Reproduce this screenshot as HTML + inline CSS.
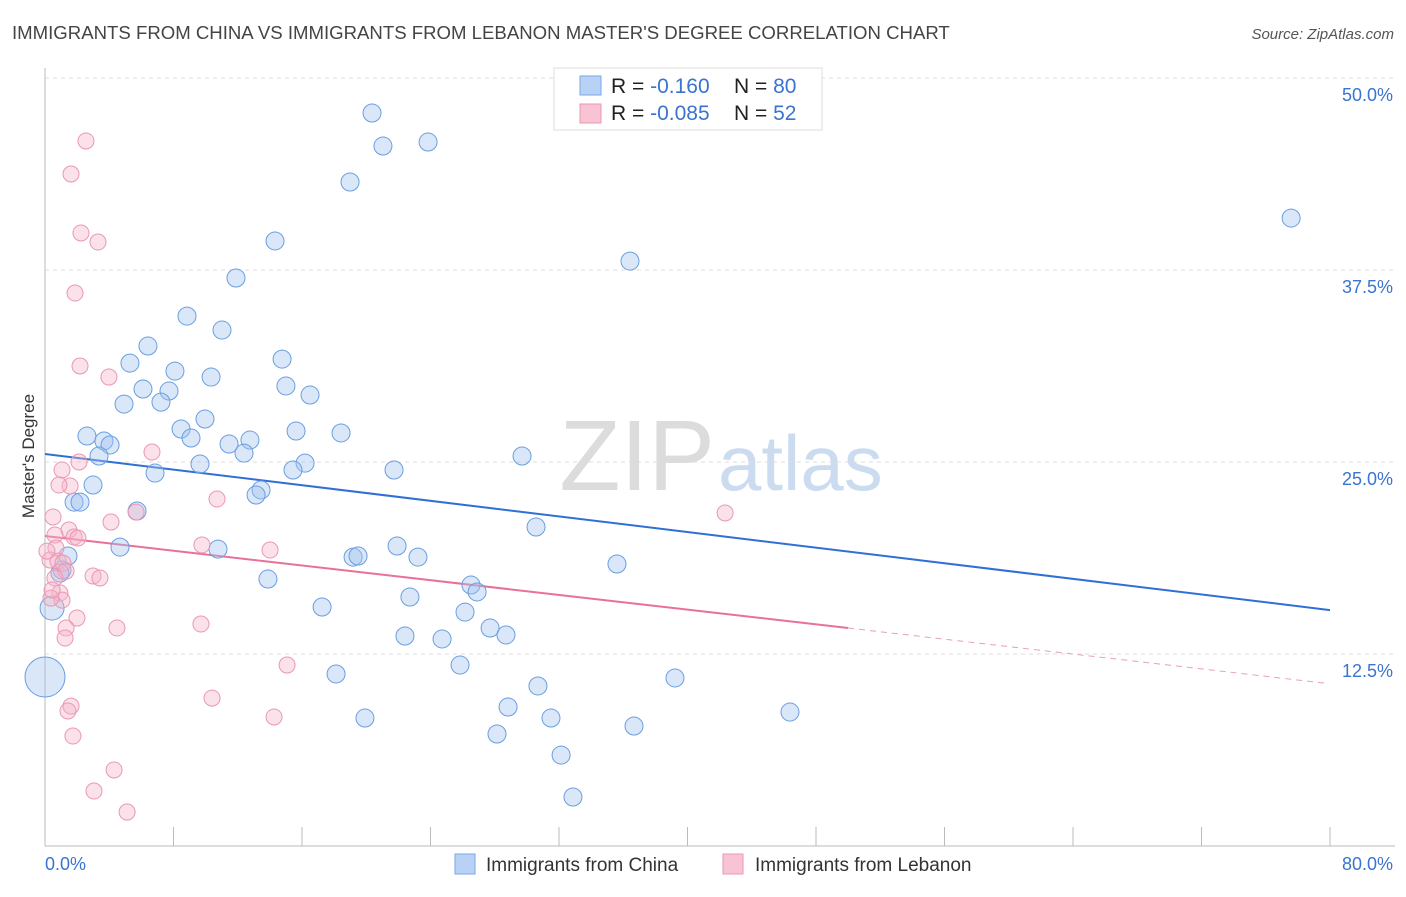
<!DOCTYPE html>
<html><head><meta charset="utf-8"><style>
body{margin:0;background:#fff;font-family:"Liberation Sans",sans-serif;}
svg text{font-family:"Liberation Sans",sans-serif;}
</style></head><body>
<svg id="chart" width="1406" height="892">
<text x="12" y="39" font-size="18.6" fill="#444">IMMIGRANTS FROM CHINA VS IMMIGRANTS FROM LEBANON MASTER'S DEGREE CORRELATION CHART</text>
<text x="1394" y="39" font-size="15" fill="#555" font-style="italic" text-anchor="end">Source: ZipAtlas.com</text>
<text x="34" y="456" font-size="17" fill="#333" text-anchor="middle" transform="rotate(-90 34 456)">Master's Degree</text>
<g><text x="715" y="490" font-size="100" fill="#dcdcdc" font-family="Liberation Serif,serif" text-anchor="end">ZIP</text><text x="718" y="490" font-size="78" fill="#ccdcf0">atlas</text></g>
<g id="grid"></g><g id="trends"></g><g id="pts"></g>
<g>
<rect x="554" y="68" width="268" height="62" fill="#fff" stroke="#ddd"/>
<rect x="580" y="76" width="21" height="19" fill="#b7d2f5" stroke="#7aa8e6"/>
<rect x="580" y="104" width="21" height="19" fill="#f8c3d3" stroke="#eb97b3"/>
<text x="611" y="93" font-size="21" fill="#222">R = <tspan fill="#3a74d0"> -0.160</tspan><tspan x="734">N = </tspan><tspan fill="#3a74d0">80</tspan></text>
<text x="611" y="120" font-size="21" fill="#222">R = <tspan fill="#3a74d0">-0.085</tspan><tspan x="734">N = </tspan><tspan fill="#3a74d0"> 52</tspan></text>
</g>
<g>
<rect x="455" y="854" width="20" height="20" fill="#b7d2f5" stroke="#7aa8e6"/>
<text x="486" y="871" font-size="19" fill="#333">Immigrants from China</text>
<rect x="723" y="854" width="20" height="20" fill="#f8c3d3" stroke="#eb97b3"/>
<text x="755" y="871" font-size="19" fill="#333">Immigrants from Lebanon</text>
</g>
</svg>
<script>
const xTicks=[0,8,16,24,32,40,48,56,64,72,80];
const yTicks=[12.5,25,37.5,50];
const yTickLabels=["12.5%","25.0%","37.5%","50.0%"];
const xEndLabels=["0.0%","80.0%"];
const chinaX=[20.36,21.04,23.85,18.99,77.58,14.32,36.42,11.89,8.84,11.02,6.41,5.29,14.76,8.09,10.34,15.00,16.50,6.10,7.72,4.92,7.22,9.96,8.47,2.61,3.67,4.05,9.09,11.46,12.76,15.63,18.43,3.36,12.39,9.65,6.85,16.19,15.44,21.73,29.70,2.99,13.45,13.14,1.81,2.18,5.73,30.57,4.67,10.77,1.43,21.92,19.18,19.49,23.22,35.61,1.06,0.93,13.88,26.52,26.90,22.72,17.25,26.15,0.44,22.41,24.72,27.71,28.70,25.84,18.12,39.22,30.69,28.83,19.92,31.50,46.38,36.67,28.14,32.13,32.87,0];
const chinaY=[47.72,45.57,45.83,43.23,40.88,39.39,38.08,36.98,34.50,33.59,32.55,31.44,31.70,30.92,30.53,29.95,29.36,29.75,29.62,28.77,28.90,27.80,27.15,26.69,26.37,26.11,26.56,26.17,26.43,27.02,26.89,25.39,25.58,24.87,24.28,24.93,24.48,24.48,25.39,23.50,23.18,22.85,22.39,22.39,21.81,20.77,19.46,19.33,18.88,19.53,18.81,18.88,18.81,18.36,17.97,17.77,17.38,16.99,16.54,16.21,15.56,15.23,15.49,13.67,13.48,14.19,13.74,11.78,11.20,10.94,10.42,9.05,8.33,8.33,8.72,7.81,7.29,5.92,3.19,11.0];
const lebX=[2.55,1.62,2.24,3.30,1.87,2.18,3.98,6.66,2.12,1.06,10.71,1.56,0.87,5.67,4.11,0.50,42.34,1.49,0.62,1.81,2.05,9.77,14.01,0.68,0.31,0.81,1.12,1.31,2.99,3.42,0.62,0.93,1.06,0.37,1.99,1.31,9.71,4.48,1.25,15.07,10.40,1.62,1.43,14.26,1.74,4.30,3.05,5.11,0.12,0.44];
const lebY=[45.90,43.75,39.91,39.32,36.00,31.25,30.53,25.65,25.00,24.48,22.59,23.44,23.50,21.74,21.09,21.42,21.68,20.57,20.25,20.12,20.05,19.60,19.27,19.40,18.62,18.55,18.42,17.90,17.58,17.45,17.45,16.47,16.01,16.14,14.84,14.19,14.45,14.19,13.54,11.78,9.63,9.11,8.79,8.40,7.16,4.95,3.58,2.21,19.20,16.67];
const chinaTrend=[25.52,15.36];
const lebTrend=[20.18,14.19,10.6];
const lebTrendSolidEnd=50;

const NS="http://www.w3.org/2000/svg";
const X0=45,X1=1330,Y0=846,Y50=78;
const sx=v=>X0+v/80*(X1-X0);
const sy=v=>Y0-v/50*(Y0-Y50);
function mk(tag,attrs,parent){const e=document.createElementNS(NS,tag);for(const k in attrs)e.setAttribute(k,attrs[k]);parent.appendChild(e);return e;}
const grid=document.getElementById('grid');
yTicks.forEach((t,i)=>{
  const l=mk('line',{x1:X0,x2:1395,y1:sy(t),y2:sy(t),stroke:'#ddd','stroke-dasharray':'4,4'},grid);
  
  
  const tx=mk('text',{x:1393,y:sy(t)+23,'font-size':18,fill:'#3a74d0','text-anchor':'end'},grid);
  tx.textContent=yTickLabels[i];
  
  
});
const ax=mk('line',{x1:X0,x2:X0,y1:68,y2:Y0,stroke:'#bbb'},grid);


const bx=mk('line',{x1:X0,x2:1395,y1:Y0,y2:Y0,stroke:'#bbb'},grid);


xTicks.forEach(t=>{
  const l=mk('line',{x1:sx(t),x2:sx(t),y1:Y0-19,y2:Y0,stroke:'#bbb'},grid);
  
  
});
const xl0=mk('text',{x:45,y:870,'font-size':18,fill:'#3a74d0'},grid);xl0.textContent=xEndLabels[0];


const xl1=mk('text',{x:1393,y:870,'font-size':18,fill:'#3a74d0','text-anchor':'end'},grid);xl1.textContent=xEndLabels[1];



const pts=document.getElementById('pts');
chinaX.forEach((v,i)=>{
  const r=i===chinaX.length-1?20:(i===62?12:9);
  const c=mk('circle',{cx:sx(v),cy:sy(chinaY[i]),r:r,fill:'rgba(160,196,240,0.4)',stroke:'#6a9ee0','stroke-width':1},pts);
  
  
});
lebX.forEach((v,i)=>{
  const c=mk('circle',{cx:sx(v),cy:sy(lebY[i]),r:8,fill:'rgba(245,180,200,0.4)',stroke:'#eb97b3','stroke-width':1},pts);
  
  
});
const tr=document.getElementById('trends');
const l1=mk('line',{x1:sx(0),y1:sy(chinaTrend[0]),x2:sx(80),y2:sy(chinaTrend[1]),stroke:'#2f6fd6','stroke-width':2},tr);


const l2=mk('line',{x1:sx(0),y1:sy(lebTrend[0]),x2:sx(lebTrendSolidEnd),y2:sy(lebTrend[1]),stroke:'#e8709a','stroke-width':2},tr);


const l3=mk('line',{x1:sx(lebTrendSolidEnd),y1:sy(lebTrend[1]),x2:sx(79.7),y2:sy(lebTrend[2]),stroke:'#e8a0b8','stroke-width':1,'stroke-dasharray':'6,5'},tr);


</script>
</body></html>
